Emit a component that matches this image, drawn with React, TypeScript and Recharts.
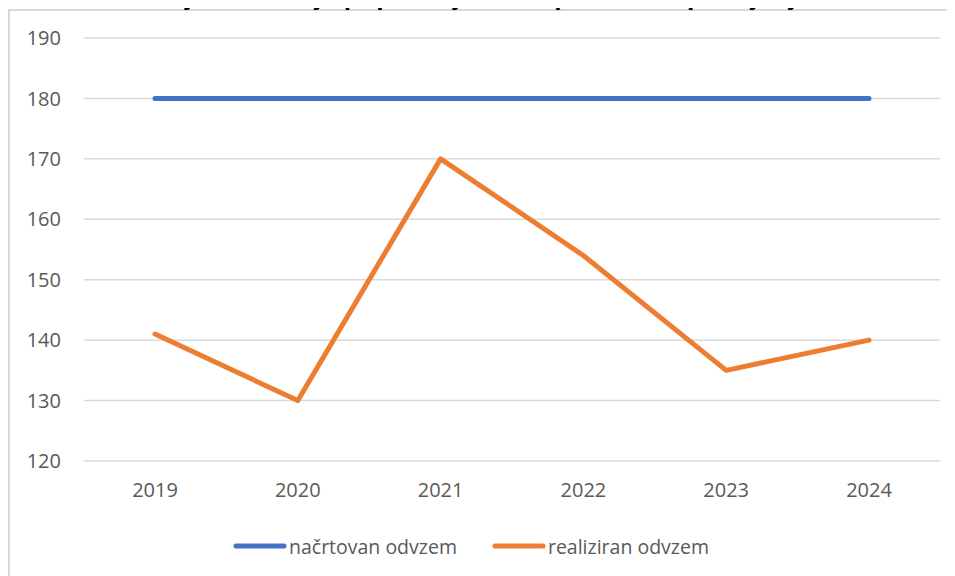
import { LineChart, Line, XAxis, YAxis, CartesianGrid, Legend } from 'recharts';

const years = ['2019', '2020', '2021', '2022', '2023', '2024'];
const planned = [180, 180, 180, 180, 180, 180];
const realized = [141, 130, 170, 154, 135, 140];
const yTicks = [120, 130, 140, 150, 160, 170, 180, 190];

const seriesNames = ['načrtovan odvzem', 'realiziran odvzem'];
const COLORS = ['#4472C4', '#ED7D31'];

const TEXT = '#595959';
const FONT = '"Open Sans", "Noto Sans", sans-serif';

const data = years.map((year, i) => ({
  year,
  [seriesNames[0]]: planned[i],
  [seriesNames[1]]: realized[i],
}));

// legenda kot v Excelu: debela črta + besedilo
function LegendContent({ payload }: any) {
  return (
    <div style={{ display: 'flex', alignItems: 'center', height: 30, fontFamily: FONT, fontSize: 19.5, color: TEXT }}>
      {(payload || []).map((p: any, i: number) => (
        <div key={p.value} style={{ display: 'flex', alignItems: 'center', marginRight: i === 0 ? 35 : 0 }}>
          <svg width={54} height={8} style={{ marginRight: 2 }}>
            <line x1={3} y1={4} x2={51} y2={4} stroke={p.color} strokeWidth={5} strokeLinecap="round" />
          </svg>
          <span>{p.value}</span>
        </div>
      ))}
    </div>
  );
}

export default function App() {
  return (
    <div style={{ position: 'relative', width: 955, height: 576, margin: '-8px 0 0 -8px', overflow: 'hidden', background: '#fff' }}>
      <div
        style={{
          position: 'absolute', left: 8, top: 9, width: 1000, height: 700,
          borderLeft: '2px solid #d9d9d9', borderTop: '2px solid #d9d9d9',
        }}
      />
      {/* naslov je v izvirniku odrezan na vrhu */}
      <svg width={955} height={20} style={{ position: 'absolute', left: 0, top: 0 }}>
        <text x={8} y={4.5} fontFamily='"Liberation Sans", Arial, sans-serif' fontWeight="bold" fontSize={26.5} fill="#000">
          Kazalniki stanja in razvoja populacije ter uspešnosti upravljanja
        </text>
      </svg>
      <div style={{ position: 'absolute', left: 0, top: 0 }}>
        <LineChart width={955} height={576} data={data} margin={{ top: 38, right: 15, left: 24, bottom: 45 }}>
          <CartesianGrid vertical={false} stroke="#d9d9d9" strokeWidth={1.5} />
          <XAxis
            dataKey="year"
            axisLine={false}
            tickLine={false}
            height={40}
            padding={{ left: 71, right: 71 }}
            tickMargin={16}
            tick={{ fill: TEXT, fontSize: 20, fontFamily: FONT }}
          />
          <YAxis
            domain={[120, 190]}
            ticks={yTicks}
            axisLine={false}
            tickLine={false}
            width={60}
            tickMargin={17}
            tick={{ fill: TEXT, fontSize: 20, fontFamily: FONT }}
          />
          <Legend
            verticalAlign="bottom"
            content={<LegendContent />}
            wrapperStyle={{ top: 531, left: 233, bottom: 'auto', width: 'auto' }}
          />
          {seriesNames.map((name, i) => (
            <Line
              key={name}
              type="linear"
              dataKey={name}
              stroke={COLORS[i]}
              strokeWidth={5}
              strokeLinecap="round"
              strokeLinejoin="round"
              dot={false}
              activeDot={false}
              isAnimationActive={false}
            />
          ))}
        </LineChart>
      </div>
    </div>
  );
}
